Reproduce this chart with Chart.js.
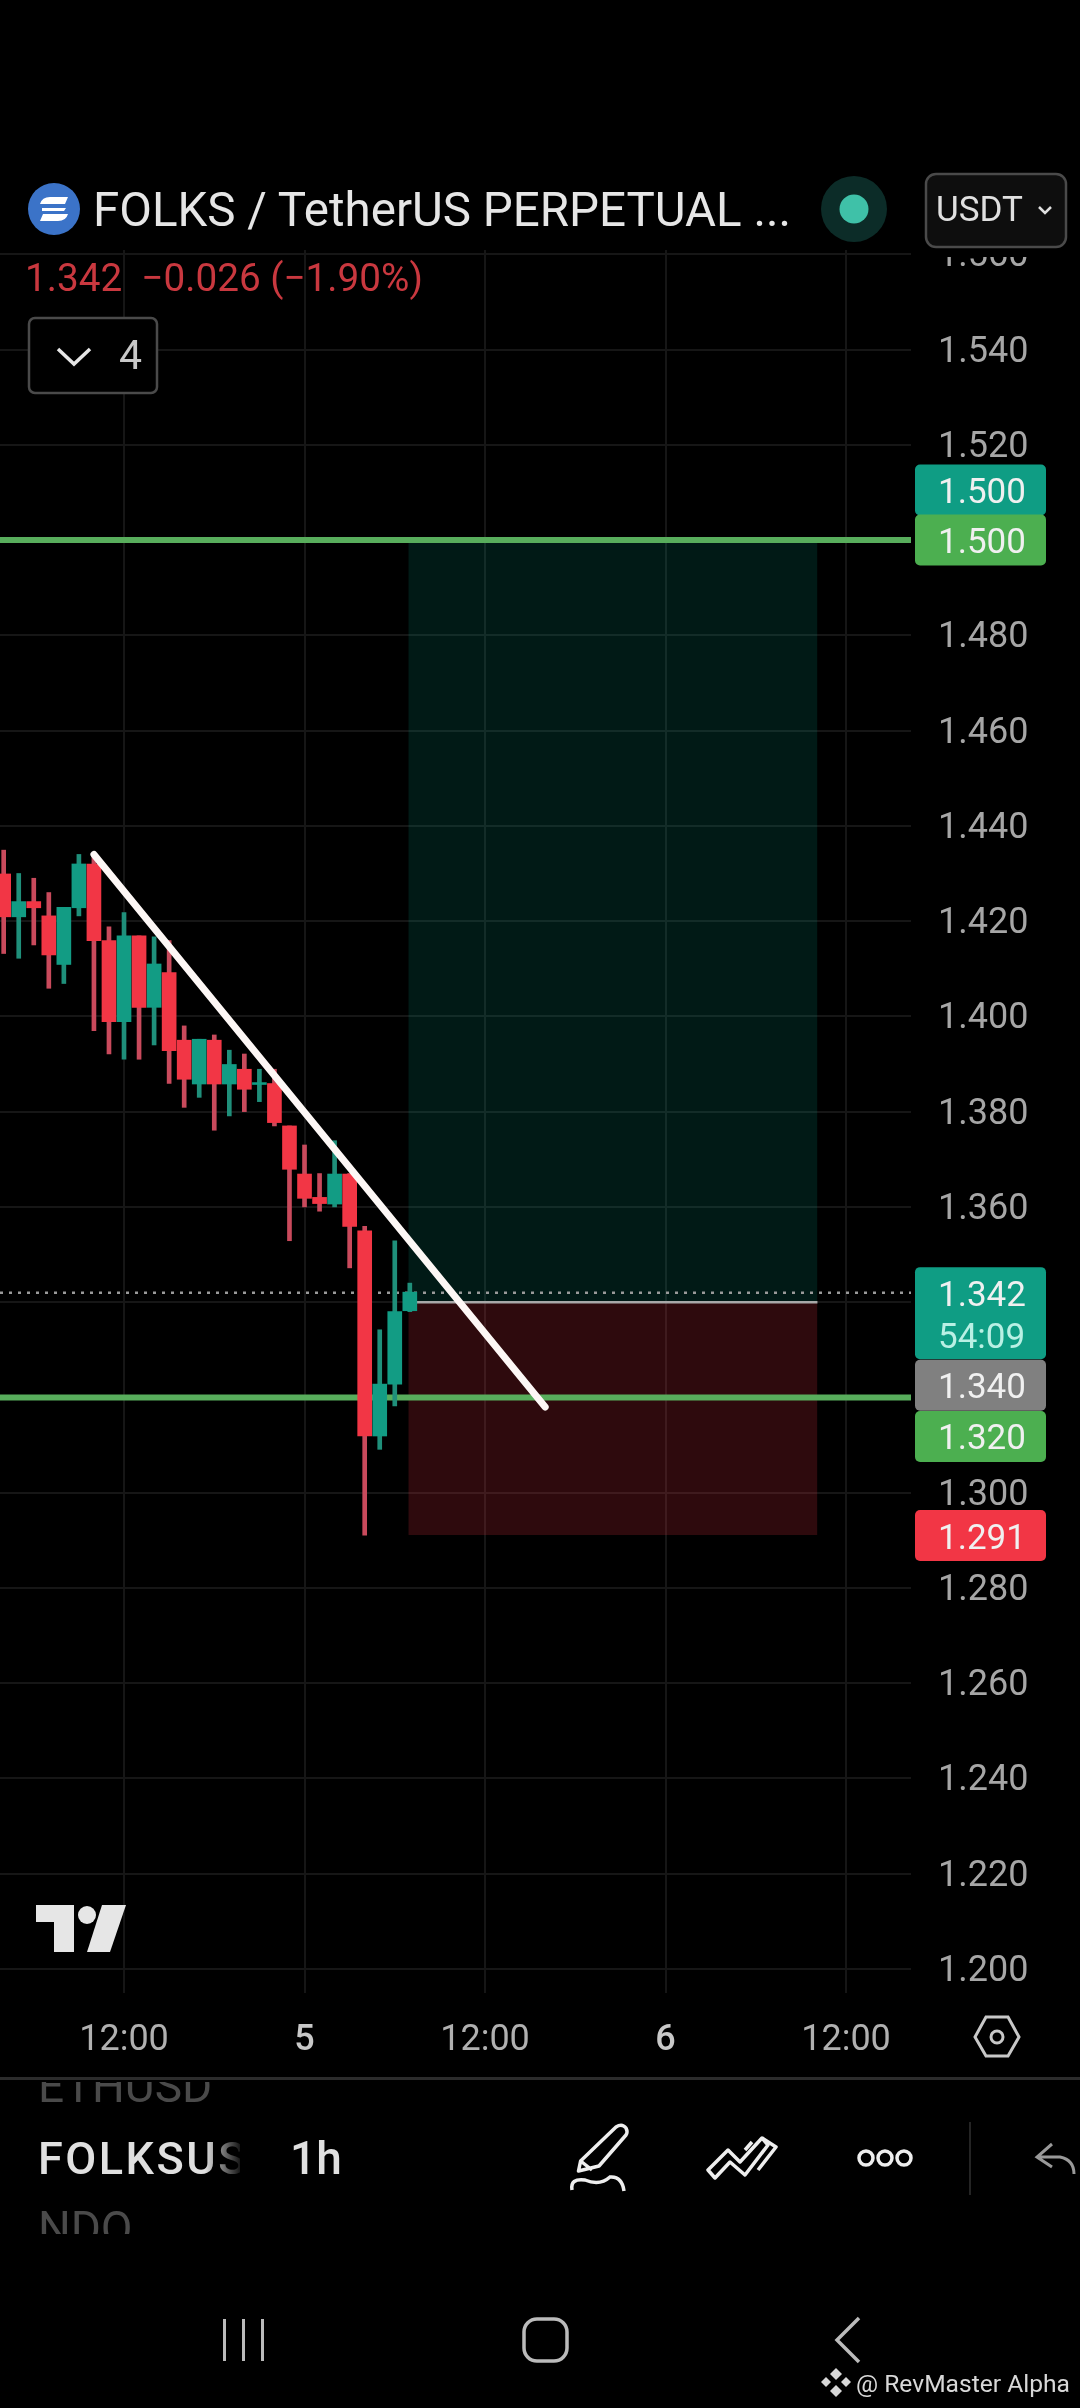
<!DOCTYPE html>
<html lang="en">
  <head>
    <meta charset="UTF-8" />
    <title>FOLKS / TetherUS 1h</title>
    <style>
      html, body { margin: 0; padding: 0; background: #000; }
      #wrap { position: relative; width: 1080px; height: 2408px; overflow: hidden; }
      canvas { position: absolute; left: 0; top: 0; }
      svg { position: absolute; left: 0; top: 0; font-family: Roboto, sans-serif; }
    </style>
  </head>
  <body>
    <div id="wrap">
      <canvas id="myChart" width="1080" height="2408"></canvas>
      <svg width="1080" height="2408" viewBox="0 0 1080 2408">
        <defs>
          <clipPath id="clipEth"><rect x="0" y="2082" width="400" height="40" /></clipPath>
          <clipPath id="clipSym"><rect x="0" y="2120" width="240" height="70" /></clipPath>
          <clipPath id="clipNdq"><rect x="0" y="2205" width="400" height="29" /></clipPath>
          <linearGradient id="symFade" gradientUnits="userSpaceOnUse" x1="205" y1="0" x2="240" y2="0">
            <stop offset="0" stop-color="#e0e0e0" />
            <stop offset="1" stop-color="#e0e0e0" stop-opacity="0.1" />
          </linearGradient>
        </defs>

        <!-- header covers the top of the pane -->
        <rect x="0" y="0" width="1080" height="250" fill="#000" />
        <rect x="911" y="0" width="169" height="257" fill="#000" />

        <circle cx="54" cy="209" r="26" fill="#3b73c8" />
        <path d="M40 204 Q42 197 50 197 L68 197 L65 204 L50 204 Z M68 214 Q66 221 58 221 L40 221 L43 214 L58 214 Z" fill="#fff" />
        <path d="M42 208 L66 208 L64 211 L42 211 Z" fill="#fff" />
        <text x="93" y="226" font-size="47.5" fill="#e6e6e6">FOLKS / TetherUS PERPETUAL ...</text>

        <circle cx="854" cy="209" r="33" fill="#0c2c28" />
        <circle cx="854" cy="209" r="14.5" fill="#3fc1a8" />

        <rect x="926" y="174" width="140" height="73" rx="10" fill="#0e0e0e" stroke="#4a4a4a" stroke-width="2.5" />
        <text x="936" y="221" font-size="35" fill="#e0e0e0">USDT</text>
        <path d="M1039 207 L1045 213 L1051 207" fill="none" stroke="#e0e0e0" stroke-width="2.5" />

        <text x="25" y="291" font-size="38.7" fill="#c9383f" xml:space="preserve">1.342  −0.026 (−1.90%)</text>

        <rect x="29" y="318" width="128" height="75" rx="6" fill="#000" stroke="#4a4a4a" stroke-width="2.5" />
        <path d="M58 349 L74 364 L90 349" fill="none" stroke="#e6e6e6" stroke-width="3.5" />
        <text x="119" y="369" font-size="41" fill="#c8c8c8">4</text>

        <!-- tradingview mark -->
        <path d="M36 1905 L74 1905 L74 1952 L54 1952 L54 1922 L36 1922 Z" fill="#e6e6e6" />
        <circle cx="87" cy="1915" r="9" fill="#e6e6e6" />
        <path d="M102 1905 L126 1905 L110 1952 L87 1952 Z" fill="#e6e6e6" />

        <!-- settings hex -->
        <path d="M986 2017 L1008 2017 L1019 2037 L1008 2056 L986 2056 L975 2037 Z" fill="none" stroke="#c8c8c8" stroke-width="3" />
        <circle cx="997" cy="2037" r="6" fill="none" stroke="#c8c8c8" stroke-width="3" />

        <!-- toolbar -->
        <rect x="0" y="2077" width="1080" height="3" fill="#2c2c2c" />
        <text x="38" y="2102" font-size="46" fill="#4a4a4a" clip-path="url(#clipEth)">ETHUSD</text>
        <text x="38" y="2174" font-size="45" font-weight="500" letter-spacing="2.5" fill="url(#symFade)" clip-path="url(#clipSym)">FOLKSUSDT</text>
        <text x="290" y="2174" font-size="46" font-weight="500" fill="#e0e0e0">1h</text>
        <text x="38" y="2244" font-size="46" fill="#4a4a4a" clip-path="url(#clipNdq)">NDQ</text>

        <path d="M578.5 2171 L580.6 2161 L616 2127 Q622 2123 626 2128 Q628 2132 626 2135 L599 2166 Z M580.6 2161 L592 2170" fill="none" stroke="#eee" stroke-width="3.5" stroke-linejoin="round" />
        <path d="M572 2190 Q570 2178 585 2180 Q600 2186 610 2177 Q622 2176 624 2191" fill="none" stroke="#eee" stroke-width="3.5" />
        <path d="M708 2170 L728 2150 L740 2162 L762 2138 L768 2145 L745 2175 L730 2162 L715 2178 Z" fill="none" stroke="#eee" stroke-width="3.5" stroke-linejoin="round" />
        <path d="M745 2150 L752 2142 M762 2138 L776 2147 L758 2170" fill="none" stroke="#eee" stroke-width="3.5" stroke-linejoin="round" />
        <circle cx="866" cy="2158" r="7" fill="none" stroke="#eee" stroke-width="3.5" />
        <circle cx="885" cy="2158" r="7" fill="none" stroke="#eee" stroke-width="3.5" />
        <circle cx="904" cy="2158" r="7" fill="none" stroke="#eee" stroke-width="3.5" />
        <rect x="969" y="2122" width="2" height="73" fill="#242424" />
        <path d="M1052 2144 L1037 2157 L1052 2167 M1037 2157 L1060 2157 Q1074 2160 1074 2174" fill="none" stroke="#999" stroke-width="3" />

        <!-- android nav -->
        <rect x="223" y="2319" width="3" height="42" fill="#bbb" />
        <rect x="242" y="2319" width="3" height="42" fill="#bbb" />
        <rect x="261" y="2319" width="3" height="42" fill="#bbb" />
        <rect x="524" y="2319" width="43" height="42" rx="13" fill="none" stroke="#bbb" stroke-width="3.5" />
        <path d="M859 2318 L837 2340 L859 2362" fill="none" stroke="#bbb" stroke-width="3.5" />

        <!-- watermark -->
        <g fill="#d8d8d8">
          <path d="M836 2368 L842 2374 L836 2380 L830 2374 Z" />
          <path d="M826 2377 L831 2382 L826 2387 L821 2382 Z" />
          <path d="M846 2377 L851 2382 L846 2387 L841 2382 Z" />
          <path d="M836 2385 L842 2391 L836 2397 L830 2391 Z" />
        </g>
        <text x="856" y="2392" font-size="24.6" fill="#d8d8d8">@ RevMaster Alpha</text>
      </svg>
    </div>
    <script src="https://cdn.jsdelivr.net/npm/chart.js"></script>
    <script>
        // hours counted from midnight of the 4th
        const hours = [4, 5, 6, 7, 8, 9, 10, 11, 12, 13, 14, 15, 16, 17, 18, 19, 20, 21, 22, 23, 24, 25, 26, 27, 28, 29, 30, 31];
        const opens = [1.4299, 1.4209, 1.4241, 1.4211, 1.4109, 1.4228, 1.4320, 1.4159, 1.3989, 1.4169, 1.4019, 1.4092, 1.3950, 1.3858, 1.3950, 1.3858, 1.3889, 1.3857, 1.3859, 1.3770, 1.3669, 1.3620, 1.3606, 1.3669, 1.3550, 1.3119, 1.3228, 1.3382];
        const highs = [1.4349, 1.4300, 1.4290, 1.4260, 1.4229, 1.4340, 1.4339, 1.4188, 1.4218, 1.4169, 1.4167, 1.4159, 1.3980, 1.3952, 1.3961, 1.3929, 1.3921, 1.3889, 1.3889, 1.3770, 1.3730, 1.3670, 1.3739, 1.3670, 1.3559, 1.3342, 1.3529, 1.3440];
        const lows = [1.4132, 1.4122, 1.4150, 1.4059, 1.4069, 1.4211, 1.3970, 1.3921, 1.3910, 1.3910, 1.3940, 1.3859, 1.3809, 1.3830, 1.3761, 1.3791, 1.3800, 1.3821, 1.3770, 1.3529, 1.3600, 1.3591, 1.3600, 1.3472, 1.2911, 1.3091, 1.3182, 1.3380];
        const closes = [1.4209, 1.4241, 1.4228, 1.4129, 1.4229, 1.4320, 1.4159, 1.3989, 1.4169, 1.4019, 1.4110, 1.3928, 1.3868, 1.3952, 1.3858, 1.3899, 1.3847, 1.3861, 1.3777, 1.3679, 1.3618, 1.3607, 1.3669, 1.3559, 1.3119, 1.3228, 1.3380, 1.3421];

        const yTicks = [1.56, 1.54, 1.52, 1.5, 1.48, 1.46, 1.44, 1.42, 1.4, 1.38, 1.36, 1.34, 1.32, 1.3, 1.28, 1.26, 1.24, 1.22, 1.2];
        const xTicks = [12, 24, 36, 48, 60];
        const xTickLabels = ["12:00", "5", "12:00", "6", "12:00"];

        const xMin = 3.755;
        const xMax = 64.32;
        const yMin = 1.19496;
        const yMax = 1.5609;

        const entryPrice = 1.34;
        const targetPrice = 1.5;
        const stopPrice = 1.2911;
        const positionHours = [30.9, 58.1];
        const lastPrice = 1.342;
        const levelPrices = [1.5, 1.32];
        const trendHours = [10, 40];
        const trendPrices = [1.434, 1.318];

        const tagValues = [1.5, 1.5, 1.342, 1.34, 1.32, 1.291];
        const tagLabels = ["1.500", "1.500", "1.342", "1.340", "1.320", "1.291"];
        const tagColors = ["#0f9d84", "#4caf50", "#0f9d84", "#808080", "#4caf50", "#f23645"];
        const tagShifts = [-50, 0, 0, 83, 39, 0];

        const red = "#f23645";
        const green = "#129c84";
        const redWick = "#c94a5c";
        const greenWick = "#1f8f7a";
        const isUp = hours.map((h, i) => closes[i] >= opens[i]);

        function flatLine(xs, value, color, width, order, dash) {
            return {
                type: "line",
                data: xs.map(x => ({ x: x, y: value })),
                borderColor: color,
                borderWidth: width,
                borderDash: dash || [],
                pointRadius: 0,
                order: order,
            };
        }

        const priceTags = {
            id: "priceTags",
            afterDraw(chart) {
                const { ctx, scales: { y } } = chart;
                ctx.save();
                ctx.font = "35px Roboto";
                ctx.textBaseline = "alphabetic";
                ctx.textAlign = "left";
                tagValues.forEach((v, i) => {
                    const mid = y.getPixelForValue(v) + tagShifts[i];
                    const tall = tagLabels[i] === "1.342";
                    ctx.fillStyle = tagColors[i];
                    ctx.beginPath();
                    ctx.roundRect(915, mid - 25.5, 131, tall ? 92 : 51, 5);
                    ctx.fill();
                });
                tagValues.forEach((v, i) => {
                    const mid = y.getPixelForValue(v) + tagShifts[i];
                    const tall = tagLabels[i] === "1.342";
                    ctx.fillStyle = "#f0f0f0";
                    ctx.fillText(tagLabels[i], 938, mid + 13);
                    if (tall) {
                        ctx.fillStyle = "#b9f0e4";
                        ctx.fillText("54:09", 938, mid + 55);
                    }
                });
                ctx.restore();
            }
        };

        const config = {
            type: "bar",
            data: {
                datasets: [
                    // trend line
                    {
                        type: "line",
                        data: trendHours.map((h, i) => ({ x: h, y: trendPrices[i] })),
                        borderColor: "#fdf7f5",
                        borderWidth: 7,
                        borderCapStyle: "round",
                        pointRadius: 0,
                        order: 0,
                    },
                    // candle bodies
                    {
                        data: hours.map((h, i) => ({ x: h, y: [opens[i], closes[i]] })),
                        backgroundColor: isUp.map(up => up ? green : red),
                        barThickness: 14,
                        grouped: false,
                        order: 1,
                    },
                    // wicks
                    {
                        data: hours.map((h, i) => ({ x: h, y: [lows[i], highs[i]] })),
                        backgroundColor: isUp.map(up => up ? greenWick : redWick),
                        barThickness: 4,
                        grouped: false,
                        order: 2,
                    },
                    flatLine([xMin, xMax], levelPrices[0], "#58ad5c", 6, 3),
                    flatLine([xMin, xMax], levelPrices[1], "#58ad5c", 6, 3),
                    flatLine([xMin, xMax], lastPrice, "#9a9a9a", 2.5, 3, [3, 6]),
                    flatLine(positionHours, entryPrice, "#a8a8a8", 2.5, 3),
                    // target and stop zones
                    Object.assign(flatLine(positionHours, targetPrice, "rgba(0,0,0,0)", 0, 4), {
                        fill: { value: entryPrice },
                        backgroundColor: "rgba(8,153,129,0.17)",
                    }),
                    Object.assign(flatLine(positionHours, stopPrice, "rgba(0,0,0,0)", 0, 4), {
                        fill: { value: entryPrice },
                        backgroundColor: "rgba(242,54,69,0.19)",
                    }),
                ],
            },
            plugins: [priceTags],
            options: {
                responsive: false,
                animation: false,
                layout: { padding: { top: 250, left: 0, right: 0, bottom: 0 } },
                plugins: {
                    legend: { display: false },
                    tooltip: { enabled: false },
                },
                scales: {
                    x: {
                        type: "linear",
                        offset: false,
                        min: xMin,
                        max: xMax,
                        afterFit(scale) { scale.height = 415; },
                        afterBuildTicks(scale) { scale.ticks = xTicks.map(v => ({ value: v })); },
                        border: { display: false },
                        grid: { color: "#161616", lineWidth: 2, drawTicks: false, offset: false },
                        ticks: {
                            autoSkip: false,
                            maxRotation: 0,
                            padding: 26,
                            color: ctx => ctx.index % 2 ? "#c8c8c8" : "#b0b0b0",
                            font: ctx => ({ family: "Roboto", size: 36, weight: ctx.index % 2 ? "500" : "normal" }),
                            callback: (v, i) => xTickLabels[i],
                        },
                    },
                    y: {
                        position: "right",
                        min: yMin,
                        max: yMax,
                        afterFit(scale) { scale.width = 169; },
                        afterBuildTicks(scale) { scale.ticks = yTicks.map(v => ({ value: v })); },
                        border: { display: false },
                        grid: { color: "#161616", lineWidth: 2, drawTicks: false },
                        ticks: {
                            autoSkip: false,
                            padding: 27,
                            color: "#a6a6a6",
                            // short line height with an empty first line nudges the label down onto its gridline
                            font: { family: "Roboto", size: 36, lineHeight: "6px" },
                            callback: v => ["", v.toFixed(3)],
                        },
                    },
                },
            },
        };

        const myChart = new Chart(document.getElementById("myChart"), config);
    </script>
  </body>
</html>
